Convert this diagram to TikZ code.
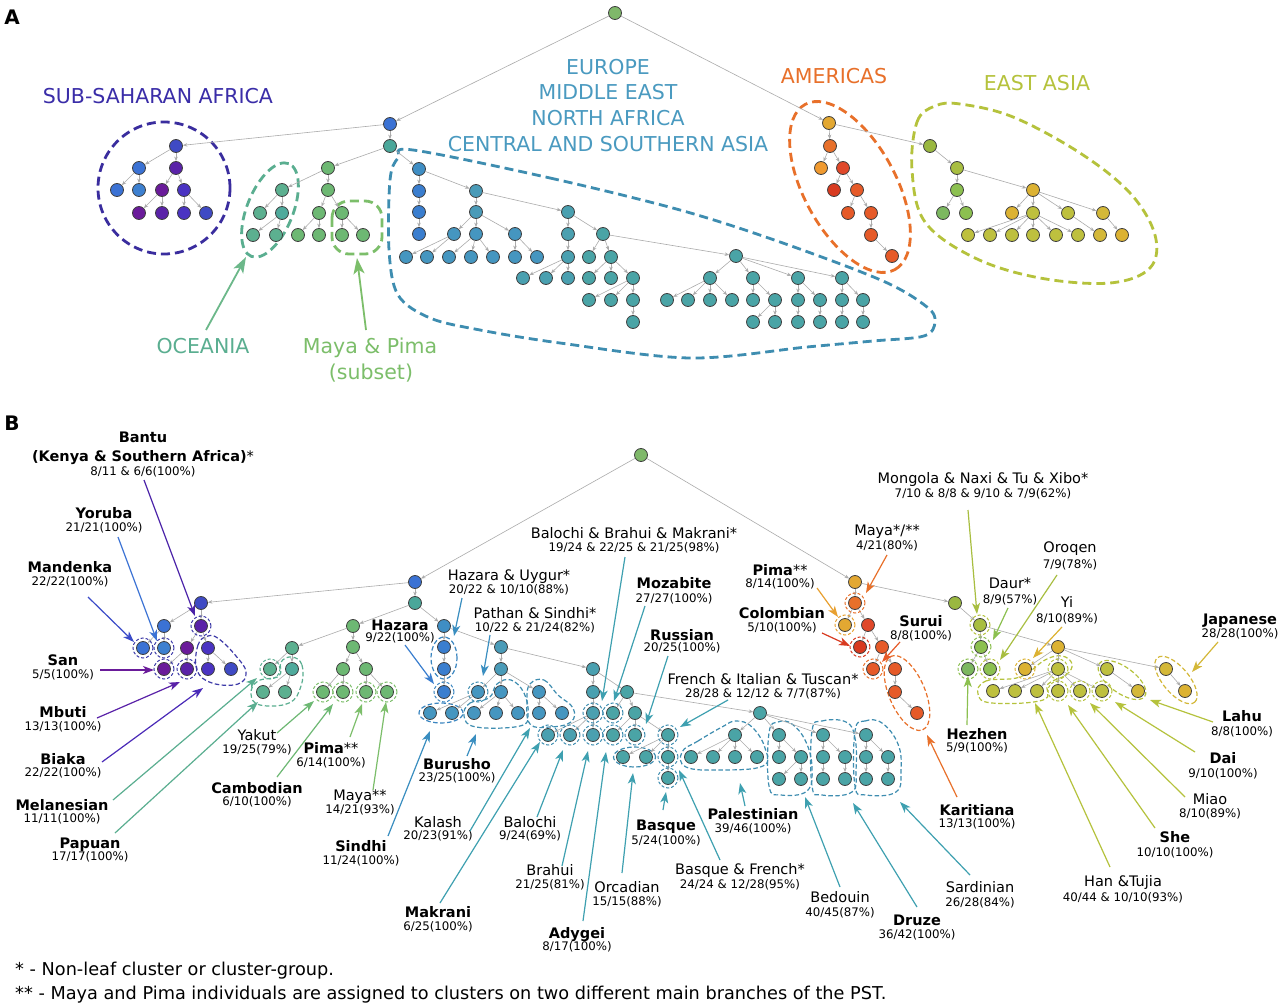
\documentclass[tikz,border=0pt]{standalone}
\usepackage{fontspec}
\setmainfont{DejaVu Sans}
\usetikzlibrary{arrows.meta}
\definecolor{cRoot}{HTML}{7FB86A}
\definecolor{cBlu}{HTML}{3B72D4}
\definecolor{cBlu2}{HTML}{3D80D0}
\definecolor{cInd}{HTML}{4A33C2}
\definecolor{cInd2}{HTML}{3F4AC4}
\definecolor{cPur}{HTML}{5A22A8}
\definecolor{cPur2}{HTML}{6A1B9A}
\definecolor{cOce}{HTML}{5CB090}
\definecolor{cOce2}{HTML}{4FAA9C}
\definecolor{cGrn}{HTML}{6DB873}
\definecolor{cTeal}{HTML}{4AA79A}
\definecolor{cEu1}{HTML}{3F8EC4}
\definecolor{cEu2}{HTML}{3A7ECF}
\definecolor{cEu3}{HTML}{4A9BB8}
\definecolor{cEu4}{HTML}{4596C0}
\definecolor{cEu5}{HTML}{4AA0B0}
\definecolor{cEu6}{HTML}{4AA4A6}
\definecolor{cGold}{HTML}{E3A832}
\definecolor{cOra}{HTML}{E8702A}
\definecolor{cOra2}{HTML}{F09A30}
\definecolor{cRed}{HTML}{D83A20}
\definecolor{cAm3}{HTML}{E0482A}
\definecolor{cOrR}{HTML}{E65A28}
\definecolor{cEa1}{HTML}{9AB840}
\definecolor{cEa2}{HTML}{A8BE40}
\definecolor{cEa3}{HTML}{8CC050}
\definecolor{cEa4}{HTML}{7CB860}
\definecolor{cEa5}{HTML}{DCB232}
\definecolor{cEa6}{HTML}{BEC03E}
\definecolor{cEa7}{HTML}{D4B838}
\definecolor{oAf}{HTML}{3A2D9E}
\definecolor{oAfR}{HTML}{3D3AA8}
\definecolor{oOc}{HTML}{5AAE90}
\definecolor{oMa}{HTML}{7CBE6A}
\definecolor{oEu}{HTML}{3E8DB0}
\definecolor{oEu2}{HTML}{3A85C0}
\definecolor{oAm}{HTML}{E8702A}
\definecolor{oEa}{HTML}{B5C23C}
\definecolor{aPur}{HTML}{4A22A8}
\definecolor{aInd}{HTML}{3A4AC8}
\definecolor{aInd2}{HTML}{4A2AB8}
\definecolor{aEuB}{HTML}{3A8EC0}
\definecolor{aEuT}{HTML}{3EA0B0}
\definecolor{aGold}{HTML}{E8A030}
\definecolor{tOce}{HTML}{6CB88A}
\definecolor{tEu}{HTML}{4A9AC0}
\definecolor{tAf}{HTML}{3A2DA8}
\tikzset{
 nd/.style={circle, draw=black!75, line width=0.8pt, minimum size=13pt, inner sep=0pt},
 tedge/.style={draw=black!33, line width=0.6pt, -{Stealth[length=4.5pt,width=3.5pt]}},
 bigout/.style={dash pattern=on 9pt off 5pt, line width=2.8pt},
 smout/.style={dash pattern=on 4.5pt off 2.5pt, line width=1.2pt},
 ring/.style={dash pattern=on 3pt off 2pt, line width=1pt},
 larr/.style={line width=1.2pt, -{Stealth[length=11pt,width=8pt,inset=3pt]}},
 Aarr/.style={line width=1.8pt, -{Stealth[length=16pt,width=11pt,inset=4pt]}},
 bn/.style={font=\fontsize{14.5}{16}\selectfont\bfseries, inner sep=0pt, anchor=base, yshift=-5.3pt},
 rn/.style={font=\fontsize{14.5}{16}\selectfont, inner sep=0pt, anchor=base, yshift=-5.3pt},
 nm/.style={font=\fontsize{11.8}{14}\selectfont, inner sep=0pt, anchor=base, yshift=-4.3pt},
 ttl/.style={font=\fontsize{20.5}{24}\selectfont, inner sep=0pt, anchor=base, yshift=-7.5pt},
 pl/.style={font=\fontsize{20}{24}\selectfont\bfseries, inner sep=0pt, anchor=base, yshift=-7.3pt},
 fnote/.style={font=\fontsize{17.7}{20}\selectfont, inner sep=0pt, anchor=base west},
}
\newcommand{\poplab}[7]{\node[#2] (#1n) at (#3,#4) {#5};\node[nm] (#1v) at (#3,#6) {#7};}
\begin{document}
\begin{tikzpicture}[x=1pt,y=-1pt]
\fill[white] (0,0) rectangle (1280,1003);
\useasboundingbox (0,0) rectangle (1280,1003);

% ================= PANEL A outlines =================
\draw[bigout, oAf] (164,188) circle[radius=66pt];
\draw[bigout, oOc, rotate around={68:(270,210)}] (270,210) ellipse[x radius=50pt, y radius=23pt];
\draw[bigout, oMa, rounded corners=17pt] (332,201) rectangle (382,254);
\draw[bigout, oEu] plot[smooth cycle, tension=0.55] coordinates {(413,150) (550,178) (680,210) (780,242) (883,281) (927,307) (935,322) (924,336) (873,341) (807,347) (690,358) (560,343) (480,330) (430,318) (398,295) (389,250) (390,180) (398,158)};
\draw[bigout, oAm, rotate around={-61.5:(850,187)}] (850,187) ellipse[x radius=94pt, y radius=46pt];
\draw[bigout, oEa] plot[smooth cycle, tension=0.6] coordinates {(912,170) (917,122) (935,106) (960,104) (1013,117) (1080,153) (1130,193) (1155,235) (1150,268) (1110,283) (1040,278) (975,258) (925,222)};

% ================= PANEL A nodes =================
\foreach \n/\x/\y/\c in {r0/615/13/cRoot, a1/390/124/cBlu, a2/390/146/cTeal,
 af0/176/146/cInd2, af1/139/168/cBlu, af2/176/168/cPur, af3/117/190/cBlu, af4/139/190/cBlu2, af5/162/190/cPur2, af6/184/190/cInd, af7/139/213/cPur2, af8/162/213/cPur, af9/184/213/cInd, af10/206/213/cInd2,
 g0/328/168/cGrn, oc0/282/190/cOce, g1/328/190/cGrn, oc1/260/213/cOce, oc2/282/213/cOce2, oc3/253/235/cOce, oc4/276/235/cOce,
 g2/319/213/cGrn, g3/342/213/cGrn, g4/298/235/cGrn, g5/319/235/cGrn, g6/342/235/cGrn, g7/363/235/cGrn,
 e0/419/169/cEu1, e1/419/191/cEu2, e2/419/212/cEu2, e3/419/234/cEu2, e4/476/191/cEu3, e5/476/212/cEu3,
 e6/454/234/cEu4, e7/476/234/cEu4, e8/515/234/cEu4, e9/406/257/cEu4, e10/427/257/cEu4, e11/449/257/cEu4, e12/471/257/cEu4, e13/493/257/cEu4, e14/515/257/cEu4, e15/537/257/cEu4,
 e16/568/212/cEu5, e17/568/234/cEu5, e18/568/257/cEu5, e19/523/278/cEu5, e20/546/278/cEu5, e21/568/278/cEu5,
 e22/603/234/cEu6, e23/589/257/cEu6, e24/611/257/cEu6, e25/589/278/cEu6, e26/611/278/cEu6, e27/633/278/cEu6, e28/589/300/cEu6, e29/611/300/cEu6, e30/633/300/cEu6, e31/633/322/cEu6,
 e32/736/256/cEu6, e33/710/278/cEu6, e34/753/278/cEu6, e35/798/278/cEu6, e36/842/278/cEu6,
 e37/667/300/cEu6, e38/688/300/cEu6, e39/710/300/cEu6, e40/732/300/cEu6, e41/753/300/cEu6, e42/775/300/cEu6, e43/753/322/cEu6, e44/775/322/cEu6,
 e45/798/300/cEu6, e46/820/300/cEu6, e47/798/322/cEu6, e48/820/322/cEu6, e49/842/300/cEu6, e50/863/300/cEu6, e51/842/322/cEu6, e52/863/322/cEu6,
 am0/829/123/cGold, am1/830/146/cOra, am2/821/168/cOra2, am3/843/168/cAm3, am4/834/190/cRed, am5/857/190/cOrR, am6/848/213/cOrR, am7/871/213/cOrR, am8/871/235/cOrR, am9/892/256/cOrR,
 ea0/930/146/cEa1, ea1/957/168/cEa2, ea2/957/190/cEa3, ea3/943/213/cEa4, ea4/966/213/cEa3, ea5/1033/190/cEa5, ea6/1012/213/cEa5, ea7/1033/213/cEa6, ea8/1068/213/cEa6, ea9/1103/213/cEa7,
 ea10/968/235/cEa6, ea11/990/235/cEa6, ea12/1012/235/cEa6, ea13/1033/235/cEa6, ea14/1056/235/cEa6, ea15/1078/235/cEa6, ea16/1100/235/cEa7, ea17/1122/235/cEa5}
 \node[nd, fill=\c] (\n) at (\x,\y) {};

\foreach \a/\b in {r0/a1, r0/am0, a1/af0, a1/a2, af0/af1, af0/af2, af1/af3, af1/af4, af2/af5, af2/af6, af5/af7, af5/af8, af6/af9, af6/af10,
 a2/g0, a2/e0, g0/oc0, g0/g1, oc0/oc1, oc0/oc2, oc2/oc3, oc2/oc4, g1/g2, g1/g3, g2/g4, g2/g5, g3/g6, g3/g7,
 e0/e1, e1/e2, e2/e3, e0/e4, e4/e5, e4/e16, e5/e6, e5/e7, e5/e8, e6/e9, e6/e10, e7/e11, e7/e12, e7/e13, e8/e14, e8/e15,
 e16/e17, e16/e22, e17/e18, e18/e19, e18/e20, e18/e21, e22/e23, e22/e24, e24/e25, e24/e26, e24/e27, e27/e28, e27/e29, e27/e30, e30/e31,
 e22/e32, e32/e33, e32/e34, e32/e35, e32/e36, e33/e37, e33/e38, e33/e39, e33/e40, e34/e41, e34/e42, e42/e43, e42/e44, e35/e45, e35/e46, e45/e47, e46/e48, e36/e49, e36/e50, e49/e51, e50/e52,
 am0/am1, am0/ea0, am1/am2, am1/am3, am3/am4, am3/am5, am5/am6, am5/am7, am7/am8, am8/am9,
 ea0/ea1, ea1/ea2, ea1/ea5, ea2/ea3, ea2/ea4, ea5/ea6, ea5/ea7, ea5/ea8, ea5/ea9, ea7/ea10, ea7/ea11, ea7/ea12, ea7/ea13, ea7/ea14, ea7/ea15, ea8/ea16, ea9/ea17}
 \draw[tedge] (\a) -- (\b);

% Panel A labels
\node[pl] (labA) at (12,17) {A};
\node[ttl, text=tAf] (tSSA) at (158,96) {SUB-SAHARAN AFRICA};
\node[ttl, text=tEu] (tEU1) at (608,67) {EUROPE};
\node[ttl, text=tEu] (tEU2) at (608,92) {MIDDLE EAST};
\node[ttl, text=tEu] (tEU3) at (608,118) {NORTH AFRICA};
\node[ttl, text=tEu] (tEU4) at (608,144) {CENTRAL AND SOUTHERN ASIA};
\node[ttl, text=oAm] (tAM) at (834,76) {AMERICAS};
\node[ttl, text=oEa] (tEA) at (1037,83) {EAST ASIA};
\node[ttl, text=oOc] (tOC) at (203,346) {OCEANIA};
\node[ttl, text=oMa] (tMP1) at (370,346) {Maya \& Pima};
\node[ttl, text=oMa] (tMP2) at (371,372) {(subset)};
\coordinate (ocS) at (206,330); \coordinate (ocE) at (246,257);
\coordinate (mpS) at (366,330); \coordinate (mpE) at (357,258);
\draw[Aarr, tOce] (ocS) -- (ocE);
\draw[Aarr, oMa] (mpS) -- (mpE);

% ================= PANEL B outlines =================
\draw[smout, oAfR] plot[smooth cycle, tension=0.7] coordinates {(208,636) (198,645) (197,670) (212,683) (238,684) (246,672) (236,656) (219,639)};
\draw[smout, oOc] plot[smooth cycle, tension=0.7] coordinates {(292,657) (302,665) (301,686) (289,703) (260,705) (251,694) (258,681) (279,676) (281,662)};
\draw[smout, oEu2] (444,658) ellipse[x radius=13pt, y radius=21pt];
\draw[smout, oEu2] (441,713) ellipse[x radius=22pt, y radius=10pt];
\draw[smout, oEu] plot[smooth cycle, tension=0.7] coordinates {(464,716) (470,703) (489,698) (497,684) (511,680) (524,693) (528,714) (520,726) (476,727)};
\draw[smout, oEu] plot[smooth cycle, tension=0.7] coordinates {(530,684) (544,680) (558,695) (573,708) (571,722) (550,727) (530,724) (527,700)};
\draw[smout, oEu] (634.5,757) ellipse[x radius=21pt, y radius=10pt];
\draw[smout, oEu] plot[smooth cycle, tension=0.7] coordinates {(682,752) (698,741) (722,727) (736,721) (752,727) (765,748) (763,766) (720,770) (686,767)};
\draw[smout, oEu] plot[smooth cycle, tension=0.7] coordinates {(769,733) (778,722) (792,724) (806,742) (812,768) (807,791) (781,795) (769,786)};
\draw[smout, oEu] plot[smooth cycle, tension=0.7] coordinates {(812,731) (822,721) (846,722) (855,738) (856,770) (852,792) (822,795) (812,786)};
\draw[smout, oEu] plot[smooth cycle, tension=0.7] coordinates {(855,731) (865,721) (882,723) (898,744) (901,770) (896,792) (866,795) (855,786)};
\draw[smout, oAm, rotate around={-67:(907,693)}] (907,693) ellipse[x radius=40pt, y radius=18pt];
\draw[smout, oEa] plot[smooth cycle, tension=0.7] coordinates {(978,694) (986,681) (1020,677) (1045,660) (1062,656) (1072,664) (1066,675) (1048,684) (1043,700) (992,703)};
\draw[smout, oEa, rotate around={-36:(1122,680)}] (1122,680) ellipse[x radius=28pt, y radius=13pt];
\draw[smout, cEa7, rotate around={-50:(1176,680)}] (1176,680) ellipse[x radius=29pt, y radius=13pt];

% ================= PANEL B nodes =================
\foreach \n/\x/\y/\c in {R0/641/455/cRoot, B1/415/582/cBlu, B2/415/603/cTeal,
 bf0/201/603/cInd2, bf1/164/626/cBlu, bf2/201/626/cPur, bf3/143/648/cBlu, bf4/164/648/cBlu2, bf5/187/648/cPur2, bf6/208/648/cInd, bf7/164/669/cPur2, bf8/187/669/cPur, bf9/208/669/cInd, bf10/231/669/cInd2,
 bg0/353/626/cGrn, bo0/292/648/cOce, bg1/353/647/cGrn, bo1/270/669/cOce, bo2/292/669/cOce2, bo3/263/692/cOce, bo4/285/692/cOce,
 bg2/343/669/cGrn, bg3/366/669/cGrn, bg4/323/692/cGrn, bg5/343/692/cGrn, bg6/366/692/cGrn, bg7/387/692/cGrn,
 be0/444/626/cEu1, be1/444/647/cEu2, be2/444/669/cEu2, be3/444/692/cEu2, be4/501/647/cEu3, be5/501/669/cEu3,
 be6/478/692/cEu4, be7/501/692/cEu4, be8/539/692/cEu4, be9/430/713/cEu4, be10/452/713/cEu4, be11/474/713/cEu4, be12/496/713/cEu4, be13/518/713/cEu4, be14/539/713/cEu4, be15/562/713/cEu4,
 be16/593/669/cEu5, be17/593/692/cEu5, be18/593/713/cEu5, be19/548/735/cEu5, be20/570/735/cEu5, be21/593/735/cEu5,
 be22/627/692/cEu6, be23/613/713/cEu6, be24/635/713/cEu6, be25/613/735/cEu6, be26/635/735/cEu6, be27/668/735/cEu6, be28/623/757/cEu6, be29/646/757/cEu6, be30/668/757/cEu6, be31/668/778/cEu6,
 be32/760/713/cEu6, be33/735/735/cEu6, be34/779/735/cEu6, be35/823/735/cEu6, be36/866/735/cEu6,
 be37/691/757/cEu6, be38/713/757/cEu6, be39/735/757/cEu6, be40/757/757/cEu6, be41/779/757/cEu6, be42/801/757/cEu6, be43/779/779/cEu6, be44/801/779/cEu6,
 be45/823/757/cEu6, be46/845/757/cEu6, be47/823/779/cEu6, be48/845/779/cEu6, be49/866/757/cEu6, be50/888/757/cEu6, be51/866/779/cEu6, be52/888/779/cEu6,
 bm0/855/582/cGold, bm1/855/603/cOra, bm2/845/625/cGold, bm3/868/625/cAm3, bm4/860/647/cRed, bm5/882/647/cOrR, bm6/873/669/cOrR, bm7/895/669/cOrR, bm8/895/692/cOrR, bm9/917/713/cOrR,
 bx0/955/603/cEa1, bx1/980/625/cEa2, bx2/981/647/cEa3, bx3/968/669/cEa4, bx4/990/669/cEa3, bx5/1058/647/cEa5, bx6/1025/669/cEa5, bx7/1058/669/cEa6, bx8/1107/669/cEa6, bx9/1166/669/cEa7,
 bx10/993/691/cEa6, bx11/1015/691/cEa6, bx12/1037/691/cEa6, bx13/1058/691/cEa6, bx14/1080/691/cEa6, bx15/1102/691/cEa6, bx16/1138/691/cEa7, bx17/1185/691/cEa5}
 \node[nd, fill=\c] (\n) at (\x,\y) {};

\foreach \a/\b in {R0/B1, R0/bm0, B1/bf0, B1/B2, bf0/bf1, bf0/bf2, bf1/bf3, bf1/bf4, bf2/bf5, bf2/bf6, bf5/bf7, bf5/bf8, bf6/bf9, bf6/bf10,
 B2/bg0, B2/be0, bg0/bo0, bg0/bg1, bo0/bo1, bo0/bo2, bo2/bo3, bo2/bo4, bg1/bg2, bg1/bg3, bg2/bg4, bg2/bg5, bg3/bg6, bg3/bg7,
 be0/be1, be1/be2, be2/be3, be0/be4, be4/be5, be4/be16, be5/be6, be5/be7, be5/be8, be6/be9, be6/be10, be7/be11, be7/be12, be7/be13, be8/be14, be8/be15,
 be16/be17, be16/be22, be17/be18, be18/be19, be18/be20, be18/be21, be22/be23, be22/be24, be24/be25, be24/be26, be24/be27, be27/be28, be27/be29, be27/be30, be30/be31,
 be22/be32, be32/be33, be32/be34, be32/be35, be32/be36, be33/be37, be33/be38, be33/be39, be33/be40, be34/be41, be34/be42, be42/be43, be42/be44, be35/be45, be35/be46, be45/be47, be46/be48, be36/be49, be36/be50, be49/be51, be50/be52,
 bm0/bm1, bm0/bx0, bm1/bm2, bm1/bm3, bm3/bm4, bm3/bm5, bm5/bm6, bm5/bm7, bm7/bm8, bm8/bm9,
 bx0/bx1, bx1/bx2, bx1/bx5, bx2/bx3, bx2/bx4, bx5/bx6, bx5/bx7, bx5/bx8, bx5/bx9, bx7/bx10, bx7/bx11, bx7/bx12, bx7/bx13, bx7/bx14, bx7/bx15, bx8/bx16, bx9/bx17}
 \draw[tedge] (\a) -- (\b);

% rings
\foreach \n/\c in {bf2/oAfR, bf3/oAfR, bf4/oAfR, bf7/oAfR, bf8/oAfR, bo1/oOc, bg4/oMa, bg5/oMa, bg6/oMa, bg7/oMa,
 be3/oEu2, be6/oEu, be18/oEu, be19/oEu, be20/oEu, be21/oEu, be23/oEu, be25/oEu, be26/oEu, be27/oEu, be30/oEu, be31/oEu,
 bm1/oAm, bm2/aGold, bm4/cRed, bm6/oAm,
 bx1/oEa, bx2/cEa3, bx3/cEa3, bx4/oEa, bx6/cEa5, bx7/oEa, bx13/oEa, bx14/oEa, bx15/oEa}
 \draw[ring, \c] (\n.center) circle[radius=10pt];

% ================= PANEL B labels =================
\node[pl] (labB) at (12,423) {B};
\node[bn] (bann) at (143,437) {Bantu};
\node[bn] (bank) at (143,456) {(Kenya \& Southern Africa)\textmd{*}};
\node[nm] (banv) at (143,471) {8/11 \& 6/6(100\%)};
\poplab{yor}{bn}{104}{513}{Yoruba}{527}{21/21(100\%)}
\poplab{man}{bn}{70}{567}{Mandenka}{581}{22/22(100\%)}
\poplab{san}{bn}{63}{660}{San}{674}{5/5(100\%)}
\poplab{mbu}{bn}{63}{712}{Mbuti}{726}{13/13(100\%)}
\poplab{bia}{bn}{63}{759}{Biaka}{772}{22/22(100\%)}
\poplab{mel}{bn}{62}{805}{Melanesian}{818}{11/11(100\%)}
\poplab{pap}{bn}{90}{843}{Papuan}{856}{17/17(100\%)}
\poplab{yak}{rn}{257}{735}{Yakut}{749}{19/25(79\%)}
\poplab{cam}{bn}{257}{788}{Cambodian}{801}{6/10(100\%)}
\poplab{pim}{bn}{331}{748}{Pima\textmd{**}}{762}{6/14(100\%)}
\poplab{may}{rn}{360}{795}{Maya**}{809}{14/21(93\%)}
\poplab{sin}{bn}{361}{846}{Sindhi}{860}{11/24(100\%)}
\poplab{haz}{bn}{400}{625}{Hazara}{637}{9/22(100\%)}
\poplab{hau}{rn}{509}{575}{Hazara \& Uygur*}{589}{20/22 \& 10/10(88\%)}
\poplab{pas}{rn}{535}{613}{Pathan \& Sindhi*}{627}{10/22 \& 21/24(82\%)}
\poplab{bur}{bn}{457}{764}{Burusho}{777}{23/25(100\%)}
\poplab{kal}{rn}{438}{822}{Kalash}{835}{20/23(91\%)}
\poplab{mak}{bn}{438}{912}{Makrani}{926}{6/25(100\%)}
\poplab{bal}{rn}{530}{822}{Balochi}{835}{9/24(69\%)}
\poplab{bra}{rn}{550}{870}{Brahui}{884}{21/25(81\%)}
\poplab{ady}{bn}{577}{933}{Adygei}{946}{8/17(100\%)}
\poplab{orc}{rn}{627}{887}{Orcadian}{901}{15/15(88\%)}
\poplab{bbm}{rn}{634}{533}{Balochi \& Brahui \& Makrani*}{547}{19/24 \& 22/25 \& 21/25(98\%)}
\poplab{moz}{bn}{674}{583}{Mozabite}{598}{27/27(100\%)}
\poplab{rus}{bn}{682}{635}{Russian}{647}{20/25(100\%)}
\poplab{fit}{rn}{763}{679}{French \& Italian \& Tuscan*}{693}{28/28 \& 12/12 \& 7/7(87\%)}
\poplab{bas}{bn}{666}{825}{Basque}{840}{5/24(100\%)}
\poplab{baf}{rn}{740}{869}{Basque \& French*}{884}{24/24 \& 12/28(95\%)}
\poplab{pal}{bn}{753}{814}{Palestinian}{828}{39/46(100\%)}
\poplab{bed}{rn}{840}{897}{Bedouin}{912}{40/45(87\%)}
\poplab{dru}{bn}{917}{920}{Druze}{934}{36/42(100\%)}
\poplab{sar}{rn}{980}{887}{Sardinian}{902}{26/28(84\%)}
\poplab{kar}{bn}{977}{810}{Karitiana}{823}{13/13(100\%)}
\poplab{mya}{rn}{887}{530}{Maya*/**}{545}{4/21(80\%)}
\poplab{pmb}{bn}{780}{570}{Pima\textmd{**}}{583}{8/14(100\%)}
\poplab{col}{bn}{782}{613}{Colombian}{627}{5/10(100\%)}
\poplab{sur}{bn}{921}{621}{Surui}{635}{8/8(100\%)}
\poplab{mon}{rn}{983}{478}{Mongola \& Naxi \& Tu \& Xibo*}{493}{7/10 \& 8/8 \& 9/10 \& 7/9(62\%)}
\poplab{dau}{rn}{1010}{583}{Daur*}{599}{8/9(57\%)}
\poplab{oro}{rn}{1070}{547}{Oroqen}{564}{7/9(78\%)}
\poplab{yi}{rn}{1067}{602}{Yi}{618}{8/10(89\%)}
\poplab{jap}{bn}{1240}{619}{Japanese}{633}{28/28(100\%)}
\poplab{hez}{bn}{977}{734}{Hezhen}{747}{5/9(100\%)}
\poplab{lah}{bn}{1242}{716}{Lahu}{731}{8/8(100\%)}
\poplab{dai}{bn}{1223}{758}{Dai}{773}{9/10(100\%)}
\poplab{mia}{rn}{1210}{799}{Miao}{813}{8/10(89\%)}
\poplab{she}{bn}{1175}{837}{She}{852}{10/10(100\%)}
\poplab{han}{rn}{1123}{881}{Han \&Tujia}{897}{40/44 \& 10/10(93\%)}

% label arrows
\foreach \t/\ux/\uy/\vx/\vy/\c in {ban/144/480/195/616/aPur, yor/118/537/157/641/cBlu, man/88/597/134/642/aInd, san/100/670/154/670/cPur2,
 mbu/97/718/180/682/cPur, bia/102/762/203/688/aInd2, mel/113/800/257/678/oOc, pap/115/833/258/702/oOc,
 yak/277/733/314/701/cGrn, cam/277/777/333/704/cGrn, pim/350/737/362/704/oMa, may/373/790/386/702/oMa,
 sin/388/836/430/731/aEuB, haz/405/645/434/684/cEu2, hau/462/598/454/636/aEuB, pas/490/635/483/676/aEuB, bur/467/756/476/734/aEuB,
 kal/470/831/530/728/aEuT, mak/440/903/540/742/aEuT, bal/537/817/563/750/aEuT, bra/562/866/588/751/aEuT, ady/583/921/606/752/aEuT,
 orc/622/873/633/773/aEuT, bas/663/810/666/792/aEuT, baf/720/860/679/770/aEuT, bbm/625/557/602/701/aEuT, moz/645/606/614/701/aEuT,
 rus/668/656/646/724/aEuT, fit/728/700/680/727/aEuT, pal/745/806/740/783/aEuT, bed/840/887/805/797/aEuT, dru/917/907/853/803/aEuT, sar/970/875/900/802/aEuT,
 kar/957/797/927/735/cOra, mya/887/555/866/593/cOra, pmb/817/588/838/617/aGold, col/822/633/850/646/cRed, sur/900/642/882/662/cOrR,
 mon/968/510/977/614/cEa2, dau/1008/608/993/640/cEa3, oro/1057/575/1000/660/cEa2, yi/1062/627/1033/658/cEa5, jap/1218/642/1192/672/cEa7,
 hez/967/725/968/676/cEa3, lah/1213/722/1150/700/oEa, dai/1195/752/1115/702/oEa, mia/1185/797/1090/703/oEa, she/1155/828/1068/705/oEa, han/1110/867/1035/703/oEa}
 { \coordinate (\t S) at (\ux,\uy); \coordinate (\t E) at (\vx,\vy); \draw[larr, \c] (\t S) -- (\t E); }

% footnotes
\node[fnote] (fn1) at (15,975) {* - Non-leaf cluster or cluster-group.};
\node[fnote] (fn2) at (15,999) {** - Maya and Pima individuals are assigned to clusters on two different main branches of the PST.};
\end{tikzpicture}
\end{document}
